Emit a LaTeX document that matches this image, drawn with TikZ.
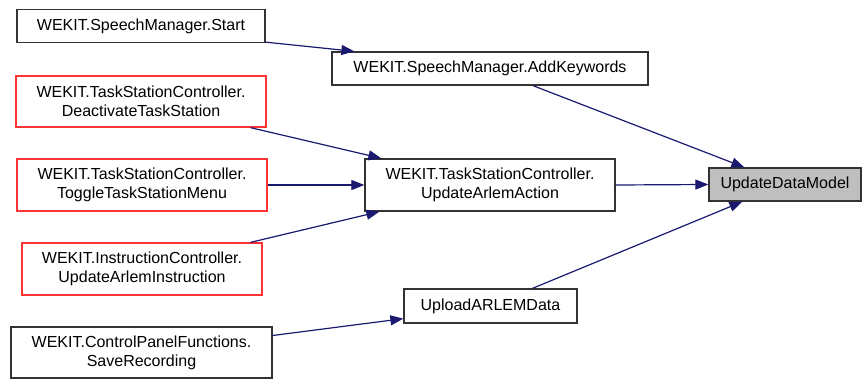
\documentclass[tikz,border=0pt]{standalone}
\usepackage{fontspec}
\setmainfont{Liberation Sans}
\usetikzlibrary{arrows.meta,calc}
\definecolor{edgeblue}{HTML}{191970}
\definecolor{fnred}{HTML}{FF3333}
\definecolor{fngray}{HTML}{BFBFBF}
\tikzset{
  fn/.style={draw=black!80, line width=1.3pt, fill=white, inner sep=0pt,
    align=center, font=\fontsize{16}{19}\selectfont},
  fnred/.style={fn, draw=fnred},
  fncur/.style={fn, fill=fngray},
  call/.style={draw=edgeblue, line width=1.2pt,
    -{Triangle[length=13pt,width=10pt]}, shorten >=0pt}
}
\begin{document}
\begin{tikzpicture}[x=1pt,y=-1pt]
\useasboundingbox (0,0) rectangle (865,380);

% callers, left column
\node[fn, minimum width=248pt, minimum height=33pt] (start) at (141,26) {WEKIT.SpeechManager.Start};
\node[fnred, minimum width=250pt, minimum height=51pt] (deact) at (141,101.5) {WEKIT.TaskStationController.\\DeactivateTaskStation};
\node[fnred, minimum width=250pt, minimum height=52pt] (toggle) at (142,185) {WEKIT.TaskStationController.\\ToggleTaskStationMenu};
\node[fnred, minimum width=240pt, minimum height=52pt] (instr) at (142,269) {WEKIT.InstructionController.\\UpdateArlemInstruction};
\node[fn, minimum width=261pt, minimum height=51pt] (save) at (141.5,352.5) {WEKIT.ControlPanelFunctions.\\SaveRecording};

% middle column
\node[fn, minimum width=316pt, minimum height=33pt] (addkw) at (490,68.5) {WEKIT.SpeechManager.AddKeywords};
\node[fn, minimum width=250pt, minimum height=52pt] (uaa) at (490,185) {WEKIT.TaskStationController.\\UpdateArlemAction};
\node[fn, minimum width=173pt, minimum height=34pt] (upload) at (490.5,306) {UploadARLEMData};

% the function whose callers are shown
\node[fncur, minimum width=152pt, minimum height=33pt] (udm) at (785,184.5) {UpdateDataModel};

% call edges
\draw[call] ($(start.south east)+(0,-1)$) -- ($(addkw.north west)+(23,0)$);
\draw[call] ($(addkw.south)+(43,0)$) -- ($(udm.north west)+(36,0)$);
\draw[call] ($(deact.south east)+(-16,0)$) -- ($(uaa.north west)+(17,0)$);
\draw[call] (toggle.east) -- (uaa.west);
\draw[call] ($(instr.north east)+(-12,0)$) -- ($(uaa.south west)+(15,0)$);
\draw[call] (uaa.east) -- (udm.west);
\draw[call] ($(upload.north)+(42,0)$) -- ($(udm.south west)+(34,0)$);
\draw[call] ($(save.east)+(0,-17)$) -- ($(upload.south west)+(0,-5)$);
\end{tikzpicture}
\end{document}
